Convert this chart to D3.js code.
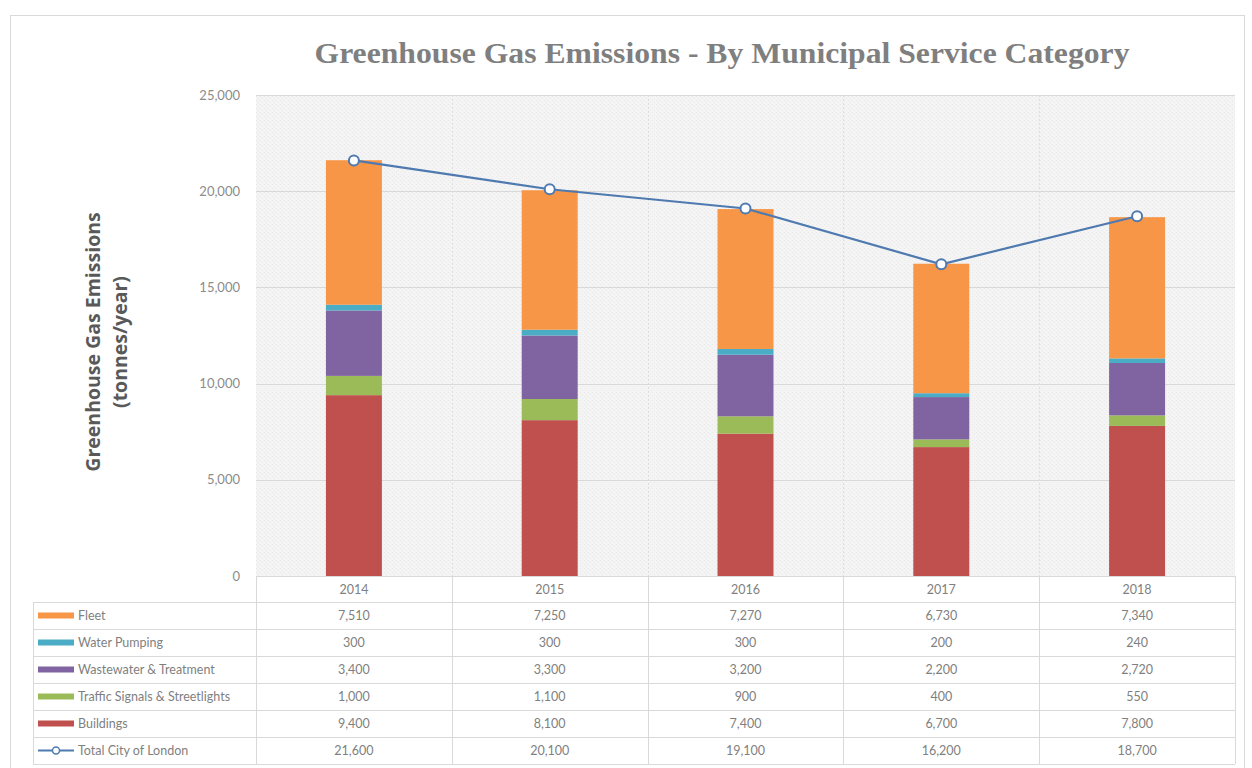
<!DOCTYPE html>
<html><head><meta charset="utf-8">
<script src="https://cdn.jsdelivr.net/npm/d3@7"></script>
<style>body{margin:0;background:#fff}svg{display:block}</style>
</head><body>
<svg id="c" width="1252" height="768"></svg>
<script>
const years = ["2014","2015","2016","2017","2018"];
const fleet = [7510,7250,7270,6730,7340];
const waterPumping = [300,300,300,200,240];
const wastewater = [3400,3300,3200,2200,2720];
const traffic = [1000,1100,900,400,550];
const buildings = [9400,8100,7400,6700,7800];
const total = [21600,20100,19100,16200,18700];
const yTicks = [0,5000,10000,15000,20000,25000];

const seriesNames = ["Buildings","Traffic Signals & Streetlights","Wastewater & Treatment","Water Pumping","Fleet"];
const seriesValues = [buildings, traffic, wastewater, waterPumping, fleet];
const seriesColors = ["#C0504D","#9BBB59","#8064A2","#4BACC6","#F79646"];
const lineColor = "#4F7AB0";

const svg = d3.select("#c");
const L = 256, R = 1235, T = 95, B = 576;
const x = d3.scaleBand().domain(years).range([L, R]).paddingInner(0.714).paddingOuter(0.357);
const xb = d3.scaleBand().domain(years).range([L, R]);
const y = d3.scaleLinear().domain([0,25000]).range([B, T]);
const fmt = d3.format(",");

// outer frame
svg.append("rect").attr("x",10.5).attr("y",15.5).attr("width",1234).attr("height",770).attr("fill","#fff").attr("stroke","#d9d9d9");

// title
svg.append("text").attr("x",722).attr("y",63).attr("text-anchor","middle")
  .attr("font-family","Liberation Serif, DejaVu Serif, serif").attr("font-weight","bold")
  .attr("font-size",29).attr("fill","#7f7f7f")
  .attr("textLength",815).attr("lengthAdjust","spacingAndGlyphs")
  .text("Greenhouse Gas Emissions - By Municipal Service Category");

// plot background
const defs = svg.append("defs");
const pat = defs.append("pattern").attr("id","dots").attr("width",4).attr("height",4).attr("patternUnits","userSpaceOnUse");
pat.append("rect").attr("width",4).attr("height",4).attr("fill","#f4f4f4");
pat.append("rect").attr("width",1).attr("height",1).attr("fill","#e9e9e9");
pat.append("rect").attr("x",2).attr("y",2).attr("width",1).attr("height",1).attr("fill","#e9e9e9");
svg.append("rect").attr("x",L).attr("y",T).attr("width",R-L).attr("height",B-T).attr("fill","url(#dots)");

// gridlines
svg.append("g").selectAll("line").data(yTicks.filter(d=>d>0)).join("line")
  .attr("x1",L).attr("x2",R).attr("y1",d=>Math.round(y(d))+0.5).attr("y2",d=>Math.round(y(d))+0.5)
  .attr("stroke","#d9d9d9");
svg.append("g").selectAll("line").data(years.slice(1)).join("line")
  .attr("x1",d=>Math.round(xb(d))+0.5).attr("x2",d=>Math.round(xb(d))+0.5).attr("y1",T).attr("y2",B)
  .attr("stroke","#dcdcdc").attr("stroke-dasharray","2,2");

// y axis
const yAxis = d3.axisLeft(y).tickValues(yTicks).tickFormat(fmt).tickSize(0).tickPadding(0);
const ga = svg.append("g").attr("transform",`translate(240,0)`).call(yAxis);
ga.select(".domain").remove();
ga.selectAll("text").attr("font-family","Lato, Carlito, sans-serif").attr("font-size",13).attr("fill","#8c8c8c");

// y title
const yt = svg.append("text").attr("transform","translate(100,342) rotate(-90)").attr("text-anchor","middle")
  .attr("font-family","Open Sans, DejaVu Sans, sans-serif").attr("font-weight","bold").attr("font-size",19.5).attr("fill","#595959");
yt.append("tspan").attr("x",0).attr("dy",0).text("Greenhouse Gas Emissions");
yt.append("tspan").attr("x",0).attr("dy",27).text("(tonnes/year)");

// stacked bars
const rows = years.map((yr,i)=>{const o={year:yr}; seriesNames.forEach((n,k)=>o[n]=seriesValues[k][i]); return o;});
const stack = d3.stack().keys(seriesNames)(rows);
svg.append("g").selectAll("g").data(stack).join("g").attr("fill",(d,i)=>seriesColors[i])
  .selectAll("rect").data(d=>d).join("rect")
  .attr("x",d=>x(d.data.year)).attr("width",x.bandwidth())
  .attr("y",d=>y(d[1])).attr("height",d=>y(d[0])-y(d[1]));

// total line
const cx = d=>xb(d)+xb.bandwidth()/2;
svg.append("path").datum(years).attr("fill","none").attr("stroke",lineColor).attr("stroke-width",2.2)
  .attr("d",d3.line().x(d=>cx(d)).y((d,i)=>y(total[i])));
svg.append("g").selectAll("circle").data(years).join("circle")
  .attr("cx",d=>cx(d)).attr("cy",(d,i)=>y(total[i])).attr("r",5)
  .attr("fill","#fff").attr("stroke",lineColor).attr("stroke-width",2);

// data table
const tL = 33, rowH = 27;
const tableRows = [
  {name:"Fleet", vals:fleet, color:"#F79646"},
  {name:"Water Pumping", vals:waterPumping, color:"#4BACC6"},
  {name:"Wastewater & Treatment", vals:wastewater, color:"#8064A2"},
  {name:"Traffic Signals & Streetlights", vals:traffic, color:"#9BBB59"},
  {name:"Buildings", vals:buildings, color:"#C0504D"},
  {name:"Total City of London", vals:total, color:lineColor, line:true}
];
const tg = svg.append("g");
const firstRow = 602;
const hLines = [firstRow].concat(tableRows.map((r,i)=>firstRow+(i+1)*rowH));
tg.selectAll("line.h").data(hLines).join("line").attr("class","h")
  .attr("x1",tL).attr("x2",R).attr("y1",d=>d+0.5).attr("y2",d=>d+0.5).attr("stroke","#d9d9d9");
tg.append("line").attr("x1",L).attr("x2",R).attr("y1",B+0.5).attr("y2",B+0.5).attr("stroke","#d9d9d9");
tg.selectAll("line.v").data(years.map(d=>xb(d)).concat([R])).join("line").attr("class","v")
  .attr("x1",d=>Math.round(d)+0.5).attr("x2",d=>Math.round(d)+0.5)
  .attr("y1",B).attr("y2",firstRow+tableRows.length*rowH).attr("stroke","#d9d9d9");
tg.append("line").attr("x1",tL+0.5).attr("x2",tL+0.5).attr("y1",firstRow).attr("y2",firstRow+tableRows.length*rowH).attr("stroke","#d9d9d9");
tg.selectAll("text.yr").data(years).join("text").attr("class","yr")
  .attr("x",d=>cx(d)).attr("y",(B+firstRow)/2+4.5).attr("text-anchor","middle")
  .attr("font-family","Lato, Carlito, sans-serif").attr("font-size",12.5).attr("fill","#7f7f7f").text(d=>d);
tableRows.forEach((r,i)=>{
  const cy = firstRow + i*rowH + rowH/2;
  if(r.line){
    tg.append("line").attr("x1",38).attr("x2",74).attr("y1",cy).attr("y2",cy).attr("stroke",r.color).attr("stroke-width",2);
    tg.append("circle").attr("cx",56).attr("cy",cy).attr("r",3.5).attr("fill","#fff").attr("stroke",r.color).attr("stroke-width",1.5);
  } else {
    tg.append("rect").attr("x",38).attr("y",cy-3).attr("width",36).attr("height",6).attr("fill",r.color);
  }
  tg.append("text").attr("x",78).attr("y",cy+4.5)
    .attr("font-family","Lato, Carlito, sans-serif").attr("font-size",12.5).attr("fill","#7f7f7f").text(r.name);
  tg.selectAll(null).data(years).join("text")
    .attr("x",d=>cx(d)).attr("y",cy+4.5).attr("text-anchor","middle")
    .attr("font-family","Lato, Carlito, sans-serif").attr("font-size",12.5).attr("fill","#7f7f7f")
    .text((d,j)=>fmt(r.vals[j]));
});
</script>
</body></html>
